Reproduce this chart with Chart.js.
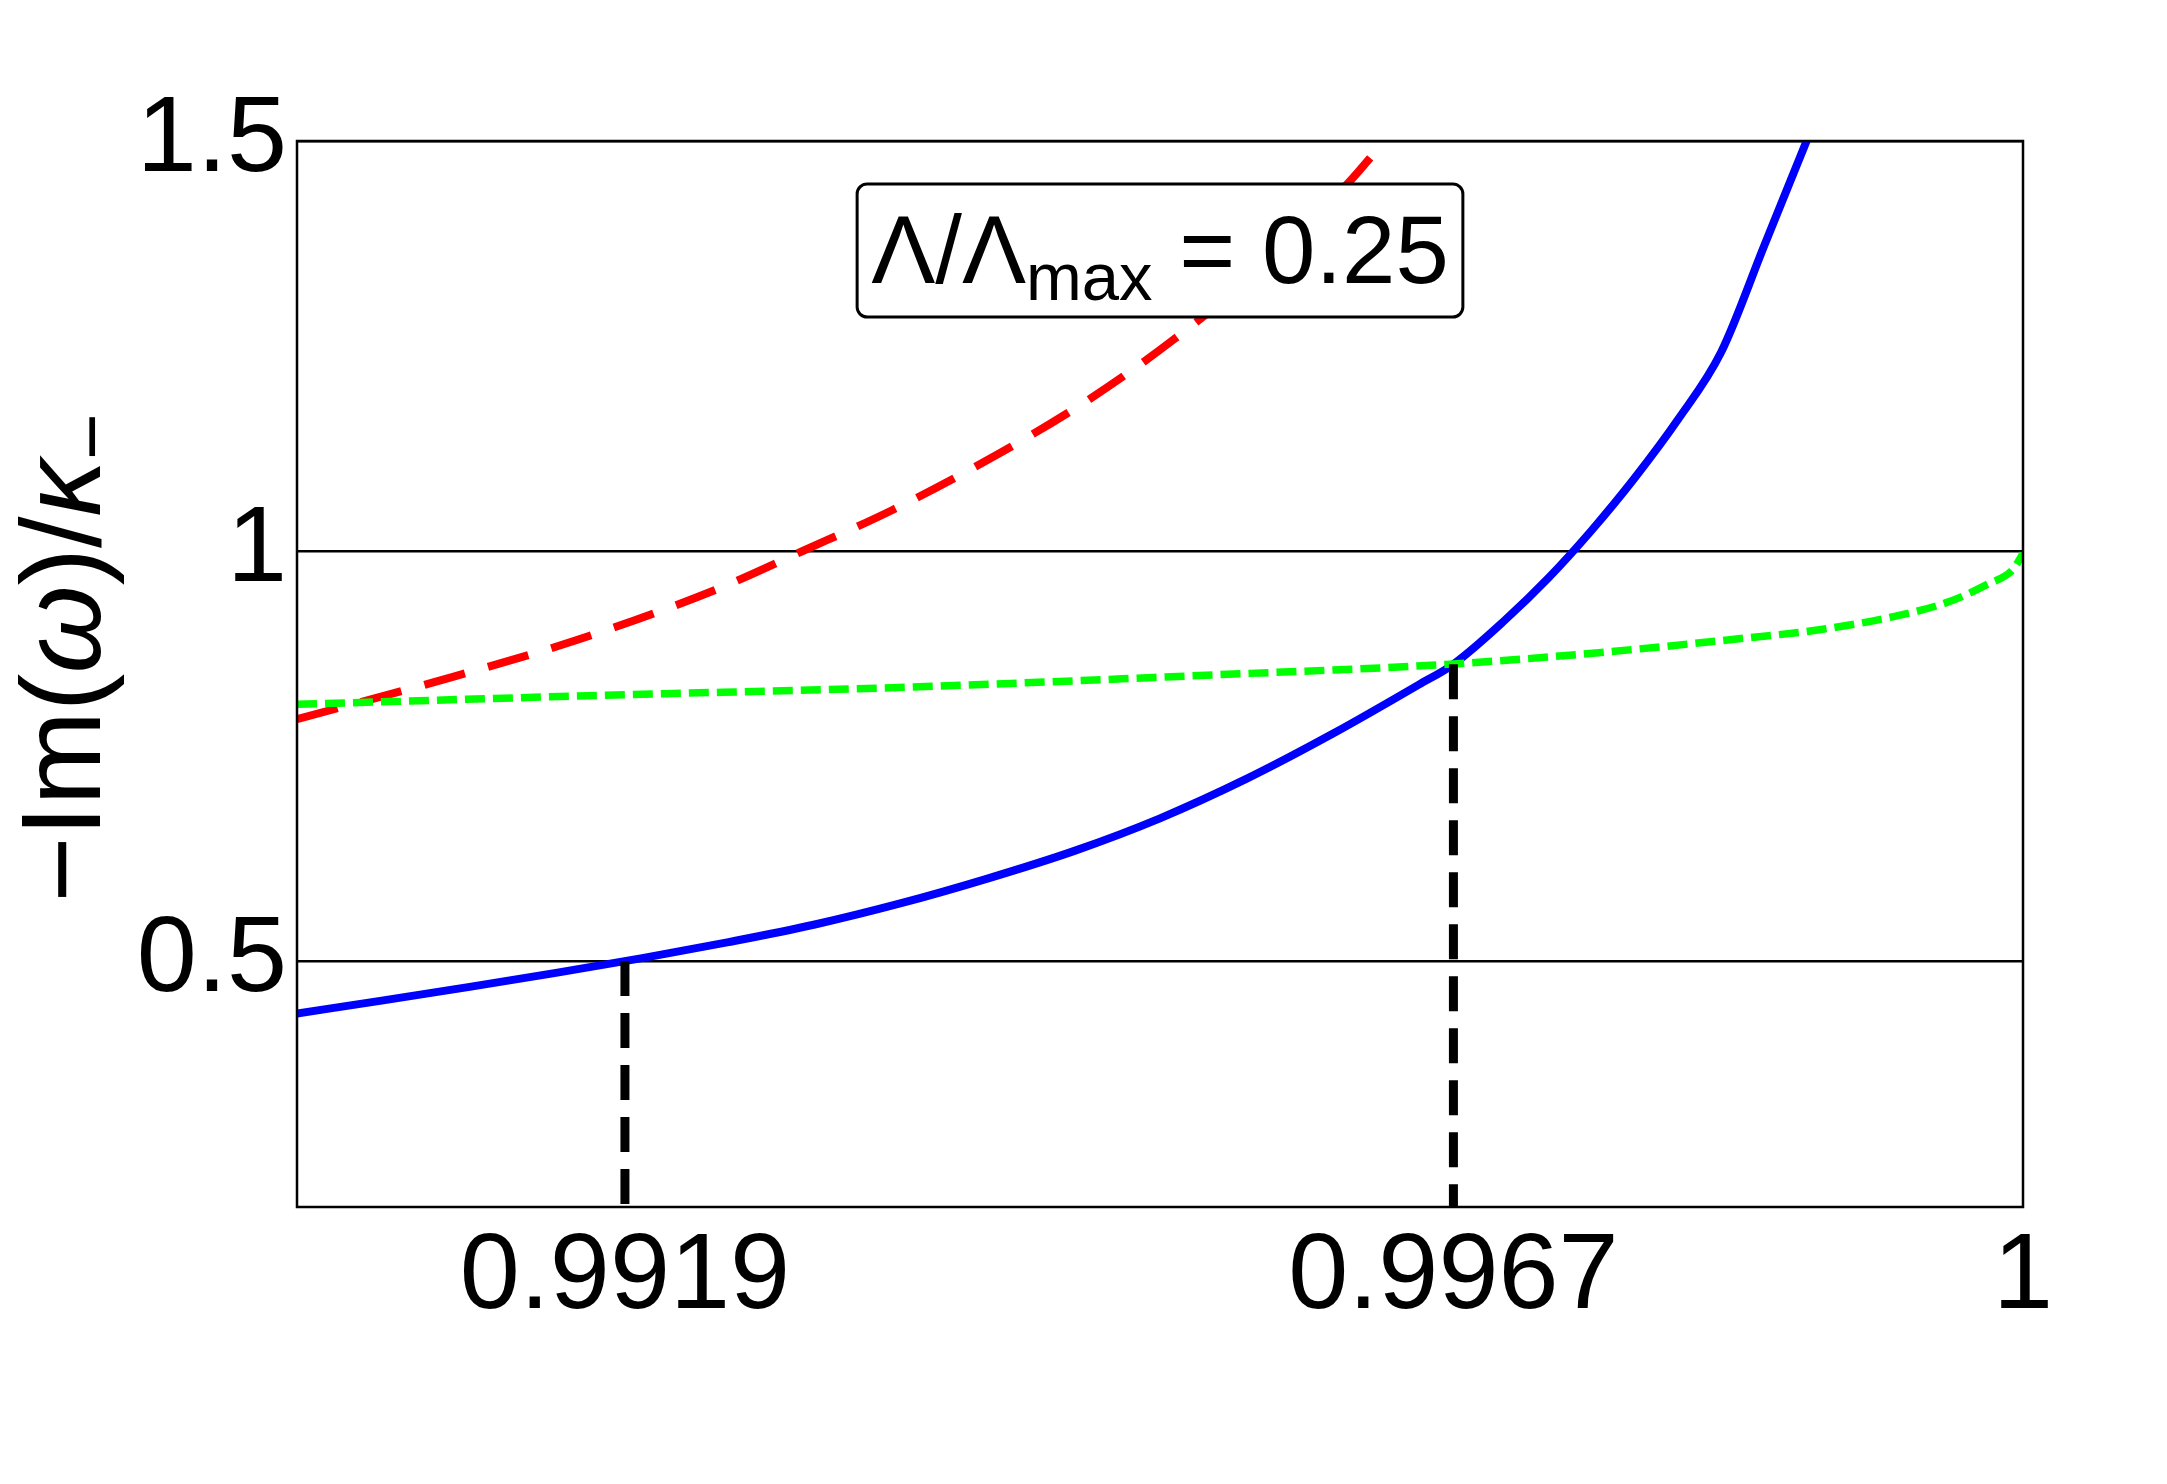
<!DOCTYPE html>
<html>
<head>
<meta charset="utf-8">
<script src="https://cdn.jsdelivr.net/npm/chart.js@4.4.1/dist/chart.umd.min.js"></script>
<style>
  html, body { margin: 0; padding: 0; background: #fff; }
  #wrap { width: 2167px; height: 1484px; }
</style>
</head>
<body>
<div id="wrap"><canvas id="myChart" width="2167" height="1484"></canvas></div>
<script>
// curves (Lambda/Lambda_max = 0.25)
var blueX = [0.9900, 0.9905, 0.9910, 0.9915, 0.9920, 0.9925, 0.9930, 0.9935, 0.9940, 0.9945, 0.9950, 0.9955,
             0.9960, 0.9965, 0.9967, 0.9970, 0.99725, 0.9975, 0.99775, 0.9980, 0.99825, 0.9985, 0.99875, 0.9990];
var blueY = [0.436, 0.452, 0.4685, 0.4855, 0.5035, 0.523, 0.5445, 0.5705, 0.6005, 0.634, 0.674, 0.722,
             0.777, 0.837, 0.862, 0.916, 0.967, 1.025, 1.089, 1.160, 1.242, 1.372, 1.502, 1.632];

var redX = [0.9900, 0.99081, 0.99163, 0.99244, 0.99293, 0.99345, 0.99406, 0.99459, 0.99508, 0.99569, 0.99610, 0.99630, 0.99645];
var redY = [0.795, 0.841, 0.892, 0.954, 1.000, 1.050, 1.118, 1.185, 1.258, 1.364, 1.451, 1.500, 1.537];

var greenX = [0.9900, 0.99177, 0.99355, 0.99532, 0.99668, 0.99754, 0.99840, 0.99882, 0.99925, 0.99957, 0.99979, 0.99994, 1.0000];
var greenY = [0.813, 0.824, 0.834, 0.849, 0.862, 0.876, 0.894, 0.904, 0.920, 0.938, 0.959, 0.977, 0.997];

// vertical markers
var markX = [0.9919, 0.9967];
var markTop = [0.500, 0.862];
var yBottom = 0.2;

var xTicks = [0.9919, 0.9967, 1];
var xTickLabels = ['0.9919', '0.9967', '1'];
var yTicks = [0.5, 1, 1.5];
var yTickLabels = ['0.5', '1', '1.5'];

var boxText = ['\u039B/\u039B', 'max', ' = 0.25'];

var FONT = "'Liberation Sans', Arial, sans-serif";
Chart.defaults.font.family = FONT;
Chart.defaults.color = '#000';

function toPoints(xs, ys) {
  return xs.map(function (x, i) { return { x: x, y: ys[i] }; });
}

var datasets = [];
markX.forEach(function (x, i) {
  datasets.push({
    data: [{ x: x, y: markTop[i] }, { x: x, y: yBottom }],
    borderColor: '#000', borderWidth: 9, borderDash: [35, 17],
    pointRadius: 0, tension: 0
  });
});
datasets.push({
  data: toPoints(greenX, greenY),
  borderColor: '#00ff00', borderWidth: 7.5, borderDash: [20, 8],
  pointRadius: 0, cubicInterpolationMode: 'monotone'
});
datasets.push({
  data: toPoints(redX, redY),
  borderColor: '#ff0000', borderWidth: 8, borderDash: [42, 24],
  pointRadius: 0, cubicInterpolationMode: 'monotone'
});
datasets.push({
  data: toPoints(blueX, blueY),
  borderColor: '#0000ff', borderWidth: 8,
  pointRadius: 0, cubicInterpolationMode: 'monotone'
});

// frame, y title with italic/subscript, and the text box
var extras = {
  id: 'extras',
  afterDraw: function (chart) {
    var ctx = chart.ctx;
    var a = chart.chartArea;
    ctx.save();
    ctx.strokeStyle = '#000';
    ctx.lineWidth = 2.5;
    ctx.strokeRect(a.left, a.top, a.right - a.left, a.bottom - a.top);

    // y axis title: −Im(ω)/κ₋
    var parts = [
      { t: '\u2212Im(', f: '113px ' + FONT, dy: 0 },
      { t: '\u03C9', f: 'italic 113px ' + FONT, dy: 0 },
      { t: ')/', f: '113px ' + FONT, dy: 0 },
      { t: '\u03BA', f: 'italic 113px ' + FONT, dy: 0 },
      { t: '\u2212', f: '80px ' + FONT, dy: 19 }
    ];
    var total = 0;
    parts.forEach(function (p) { ctx.font = p.f; p.w = ctx.measureText(p.t).width; total += p.w; });
    ctx.translate(100, (a.top + a.bottom) / 2 - 16);
    ctx.rotate(-Math.PI / 2);
    ctx.fillStyle = '#000';
    ctx.textBaseline = 'alphabetic';
    var x = -total / 2;
    parts.forEach(function (p) { ctx.font = p.f; ctx.fillText(p.t, x, p.dy); x += p.w; });
    ctx.restore();

    // annotation box
    ctx.save();
    var big = '96px ' + FONT, small = '67px ' + FONT;
    ctx.font = big; var w1 = ctx.measureText(boxText[0]).width;
    ctx.font = small; var w2 = ctx.measureText(boxText[1]).width;
    ctx.font = big; var w3 = ctx.measureText(boxText[2]).width;
    var tw = w1 + w2 + w3;
    var bw = tw + 28, bh = 133;
    var cx = (a.left + a.right) / 2;
    var bx = cx - bw / 2, by = a.top + 43;
    ctx.beginPath();
    ctx.roundRect(bx, by, bw, bh, 10);
    ctx.fillStyle = '#fff';
    ctx.fill();
    ctx.lineWidth = 3;
    ctx.strokeStyle = '#000';
    ctx.stroke();
    ctx.fillStyle = '#000';
    ctx.textBaseline = 'alphabetic';
    var tx = bx + 14, ty = by + 99;
    ctx.font = big; ctx.fillText(boxText[0], tx, ty); tx += w1;
    ctx.font = small; ctx.fillText(boxText[1], tx, ty + 17); tx += w2;
    ctx.font = big; ctx.fillText(boxText[2], tx, ty);
    ctx.restore();
  }
};

var ctx = document.getElementById('myChart');
var myChart = new Chart(ctx, {
  type: 'line',
  data: { datasets: datasets },
  options: {
    responsive: false,
    devicePixelRatio: 1,
    animation: false,
    layout: { padding: { top: 141, right: 144, left: 0, bottom: 0 } },
    plugins: { legend: { display: false }, tooltip: { enabled: false } },
    scales: {
      x: {
        type: 'linear', min: 0.990, max: 1.0,
        grid: { display: false, drawTicks: false },
        border: { display: false },
        afterBuildTicks: function (scale) { scale.ticks = xTicks.map(function (v) { return { value: v }; }); },
        afterFit: function (scale) { scale.height = 277; },
        ticks: {
          autoSkip: false, maxRotation: 0, padding: 6,
          font: { size: 108 }, color: '#000',
          callback: function (v, i) { return xTickLabels[i]; }
        }
      },
      y: {
        type: 'linear', min: 0.2, max: 1.5,
        grid: { color: '#000', lineWidth: 2.5, drawTicks: false },
        border: { display: false },
        afterBuildTicks: function (scale) { scale.ticks = yTicks.map(function (v) { return { value: v }; }); },
        afterFit: function (scale) { scale.width = 297; },
        ticks: {
          padding: 10, font: { size: 108 }, color: '#000',
          callback: function (v, i) { return yTickLabels[i]; }
        }
      }
    }
  },
  plugins: [extras]
});
</script>
</body>
</html>
